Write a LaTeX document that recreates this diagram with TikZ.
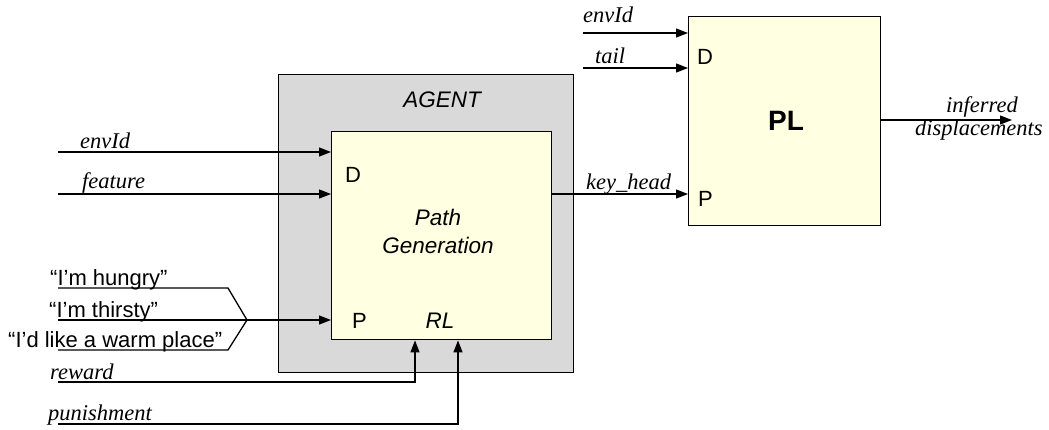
\documentclass[tikz,border=0pt]{standalone}
\usepackage{fontspec}
\setmainfont{Liberation Serif}
\setsansfont{Liberation Sans}
\usetikzlibrary{arrows.meta}
\definecolor{agentgray}{RGB}{217,217,217}
\definecolor{blockfill}{RGB}{255,255,225}
\begin{document}
\begin{tikzpicture}[x=1pt,y=-1pt,
  outerbox/.style={draw=black, line width=1.4pt, fill=agentgray, inner sep=0pt, anchor=north west},
  block/.style={draw=black, line width=1.4pt, fill=blockfill, inner sep=0pt, anchor=north west},
  wire/.style={line width=1.3pt},
  arr/.style={wire, -{Triangle[length=12pt,width=9pt]}},
  sig/.style={font=\fontsize{22.5}{26}\selectfont\itshape, inner sep=0pt, anchor=base west},
  phrase/.style={font=\sffamily\fontsize{22}{26}\selectfont, inner sep=0pt, anchor=base west},
  port/.style={font=\sffamily\fontsize{22}{26}\selectfont, inner sep=0pt, anchor=base west},
  title/.style={font=\sffamily\itshape\fontsize{22.5}{26}\selectfont, inner sep=0pt, anchor=base},
]
\useasboundingbox (0,0) rectangle (1049,429);

% agent and its path generation block
\node[outerbox, minimum width=295pt, minimum height=298pt] (agent) at (278,74) {};
\node[title] (agentlbl) at (442,107) {AGENT};
\node[block, minimum width=220pt, minimum height=208pt] (pg) at (331,131) {};
\node[port] (pgD) at (345,182) {D};
\node[port] (pgP) at (352,328) {P};
\node[title] (pgname) at (438,225) {Path};
\node[title] (pgname2) at (438,253) {Generation};
\node[title] (pgrl) at (440,328) {RL};

% PL block
\node[block, minimum width=192pt, minimum height=209pt] (pl) at (688,16) {};
\node[port] (plD) at (697,64) {D};
\node[port] (plP) at (698,206) {P};
\node[font=\sffamily\bfseries\fontsize{28}{32}\selectfont, inner sep=0pt, anchor=base] (plname) at (786,130) {PL};

% inputs of the agent
\coordinate (envA) at (58,152);
\coordinate (featA) at (58,194);
\draw[arr] (envA) -- (envA -| pg.west);
\draw[arr] (featA) -- (featA -| pg.west);
\node[sig] (lenvA) at (80,148) {envId};
\node[sig] (lfeat) at (82,188) {feature};

% spoken requests merged into one input
\coordinate (hungry) at (58,288);
\coordinate (hungryK) at (228,288);
\coordinate (thirsty) at (58,320);
\coordinate (warm) at (58,350);
\coordinate (warmK) at (228,350);
\coordinate (merge) at (247,320);
\draw[wire] (hungry) -- (hungryK) -- (merge);
\draw[wire] (warm) -- (warmK) -- (merge);
\draw[arr] (thirsty) -- (thirsty -| pg.west);
\node[phrase] (lhungry) at (50,285.5) {“I’m hungry”};
\node[phrase] (lthirsty) at (49,317.5) {“I’m thirsty”};
\node[phrase] (lwarm) at (8,347.5) {“I’d like a warm place”};

% reinforcement signals
\coordinate (rew) at (58,382);
\coordinate (rewK) at (415,382);
\coordinate (pun) at (58,424);
\coordinate (punK) at (458,424);
\draw[arr] (rew) -- (rewK) -- (rewK |- pg.south);
\draw[arr] (pun) -- (punK) -- (punK |- pg.south);
\node[sig] (lrew) at (50,379) {reward};
\node[sig] (lpun) at (48,420) {punishment};

% agent output to PL
\coordinate (khy) at (0,194);
\draw[arr] (pg.east |- khy) -- (pl.west |- khy);
\node[sig] (lkh) at (586,189) {key\_head};

% inputs of PL
\coordinate (envB) at (583,33);
\coordinate (tailB) at (583,68);
\draw[arr] (envB) -- (envB -| pl.west);
\draw[arr] (tailB) -- (tailB -| pl.west);
\node[sig] (lenvB) at (583,22) {envId};
\node[sig] (ltail) at (595,63) {tail};

% PL output
\coordinate (outB) at (1012,120);
\draw[arr] (pl.east |- outB) -- (outB);
\node[sig] (linf) at (946,112) {inferred};
\node[sig] (ldisp) at (915,135) {displacements};
\end{tikzpicture}
\end{document}
